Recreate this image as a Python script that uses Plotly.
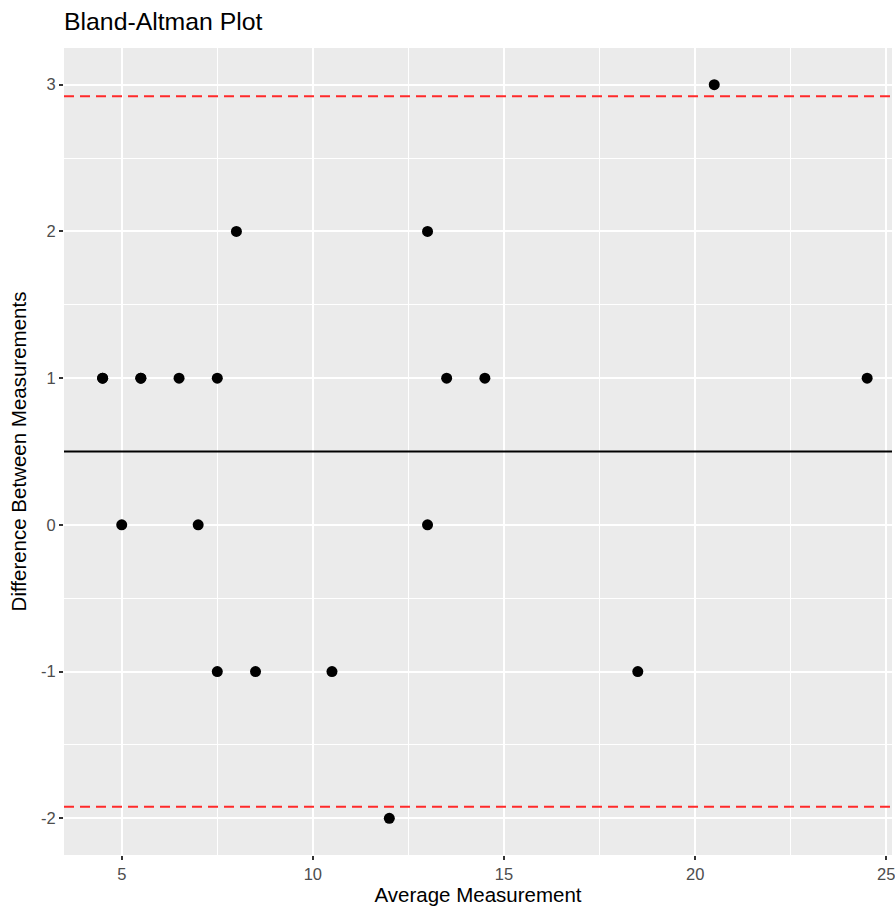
import numpy as np
import plotly.graph_objects as go

# Data
avg_measure = [4.5, 4.5, 5.0, 5.5, 5.5, 6.5, 7.0, 7.5, 7.5, 8.0,
               8.5, 10.5, 12.0, 13.0, 13.0, 13.5, 14.5, 18.5, 20.5, 24.5]
diff_measure = [1, 1, 0, 1, 1, 1, 0, 1, -1, 2,
                -1, -1, -2, 2, 0, 1, 1, -1, 3, 1]

x_ticks = [5, 10, 15, 20, 25]
y_ticks = [-2, -1, 0, 1, 2, 3]

mean_diff = float(np.mean(diff_measure))
sd_diff = float(np.std(diff_measure, ddof=1))
upper = mean_diff + 1.96 * sd_diff
lower = mean_diff - 1.96 * sd_diff

FONT = "Liberation Sans, Arial, Helvetica, sans-serif"

W, H = 895, 907

fig = go.Figure()
fig.add_trace(go.Scatter(
    x=avg_measure, y=diff_measure, mode="markers",
    marker=dict(color="black", size=11, line=dict(width=0)),
    showlegend=False, hoverinfo="x+y",
))

fig.add_shape(type="line", xref="paper", x0=0, x1=1, yref="y", y0=mean_diff, y1=mean_diff,
              line=dict(color="black", width=1.8))
for v in (upper, lower):
    fig.add_shape(type="line", xref="paper", x0=0, x1=1, yref="y", y0=v, y1=v,
                  line=dict(color="#FF2A2A", width=2, dash="10px,6px"))

fig.update_layout(
    width=W, height=H,
    margin=dict(l=64, r=0, t=48, b=52),
    paper_bgcolor="white", plot_bgcolor="#EBEBEB",
    font=dict(family=FONT, color="#4D4D4D"),
    title=dict(text="Bland-Altman Plot", x=64 / W, xanchor="left", xref="container",
               y=1 - 21 / H, yanchor="middle", yref="container",
               font=dict(size=24.8, color="black", family=FONT)),
    xaxis=dict(
        range=[3.49, 25.15], tickvals=x_ticks, ticktext=[str(t) for t in x_ticks],
        showgrid=True, gridcolor="white", gridwidth=1.8, zeroline=False,
        ticks="outside", ticklen=4, tickwidth=1.5, tickcolor="#333333",
        tickfont=dict(size=16.5, color="#4D4D4D"), ticklabeloverflow="allow",
        minor=dict(tickvals=[7.5, 12.5, 17.5, 22.5], showgrid=True, gridcolor="white", gridwidth=0.9),
        title=dict(text="Average Measurement", font=dict(size=20.5, color="black"), standoff=4),
        showline=False, fixedrange=True,
    ),
    yaxis=dict(
        range=[-2.25, 3.25], tickvals=y_ticks, ticktext=[str(t) for t in y_ticks],
        showgrid=True, gridcolor="white", gridwidth=1.8, zeroline=False,
        ticks="outside", ticklen=4, tickwidth=1.5, tickcolor="#333333",
        tickfont=dict(size=16.5, color="#4D4D4D"),
        minor=dict(tickvals=[-1.5, -0.5, 0.5, 1.5, 2.5], showgrid=True, gridcolor="white", gridwidth=0.9),
        title=dict(text="Difference Between Measurements", font=dict(size=20.5, color="black"), standoff=8),
        showline=False, fixedrange=True,
    ),
)

fig.write_html(
    "out.html",
    config={"displayModeBar": False},
    post_script="document.body.style.margin='0';document.body.style.overflow='hidden';",
)
